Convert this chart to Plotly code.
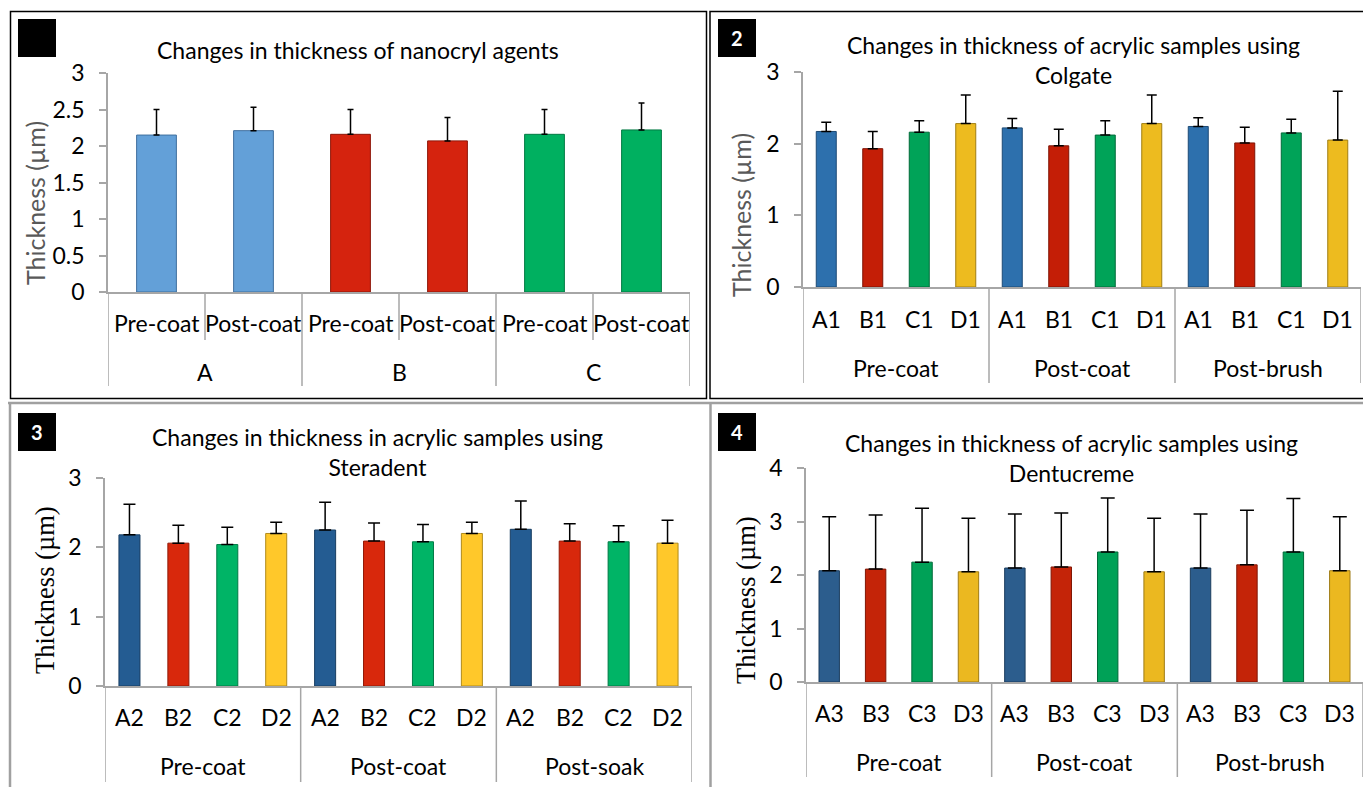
import plotly.graph_objects as go

# ---------------- Data ----------------
# Panel 1: nanocryl agents
p1_groups = ["A", "A", "B", "B", "C", "C"]
p1_phases = ["Pre-coat", "Post-coat", "Pre-coat", "Post-coat", "Pre-coat", "Post-coat"]
p1_values = [2.15, 2.21, 2.16, 2.07, 2.16, 2.22]
p1_errors = [0.35, 0.32, 0.34, 0.32, 0.34, 0.37]

# Panel 2: Colgate
p2_stages = ["Pre-coat"] * 4 + ["Post-coat"] * 4 + ["Post-brush"] * 4
p2_samples = ["A1", "B1", "C1", "D1"] * 3
p2_values = [2.17, 1.93, 2.16, 2.28, 2.22, 1.97, 2.12, 2.28, 2.24, 2.01, 2.15, 2.05]
p2_errors = [0.13, 0.24, 0.16, 0.40, 0.13, 0.23, 0.20, 0.40, 0.12, 0.22, 0.19, 0.68]

# Panel 3: Steradent
p3_stages = ["Pre-coat"] * 4 + ["Post-coat"] * 4 + ["Post-soak"] * 4
p3_samples = ["A2", "B2", "C2", "D2"] * 3
p3_values = [2.18, 2.06, 2.04, 2.20, 2.25, 2.09, 2.08, 2.20, 2.26, 2.09, 2.08, 2.06]
p3_errors = [0.44, 0.26, 0.25, 0.16, 0.40, 0.26, 0.25, 0.16, 0.41, 0.25, 0.23, 0.33]

# Panel 4: Dentucreme
p4_stages = ["Pre-coat"] * 4 + ["Post-coat"] * 4 + ["Post-brush"] * 4
p4_samples = ["A3", "B3", "C3", "D3"] * 3
p4_values = [2.08, 2.11, 2.24, 2.06, 2.13, 2.15, 2.43, 2.06, 2.13, 2.19, 2.43, 2.08]
p4_errors = [1.01, 1.01, 1.01, 1.00, 1.01, 1.01, 1.01, 1.00, 1.01, 1.02, 1.00, 1.01]

panel_titles = ["Changes in thickness of nanocryl agents",
                "Changes in thickness of acrylic samples using<br>Colgate",
                "Changes in thickness in acrylic samples using<br>Steradent",
                "Changes in thickness of acrylic samples using<br>Dentucreme"]
badge_texts = ["", "2", "3", "4"]
y_title = "Thickness (µm)"

# ---------------- Styling ----------------
OFF = 8                     # page body margin
W, H = 1371 - OFF, 787 - OFF

c1 = ["#63A0D8", "#63A0D8", "#D5230E", "#D5230E", "#00B060", "#00B060"]
c1_line = ["#3F6F9E", "#3F6F9E", "#8E1608", "#8E1608", "#007A43", "#007A43"]
c2 = ["#2D70AD", "#C41E06", "#00A358", "#EDBB1F"] * 3
c2_line = ["#1D4A75", "#7E1304", "#006A39", "#A07E12"] * 3
c3 = ["#245C92", "#D8280C", "#00B466", "#FFC82A"] * 3
c3_line = ["#183E62", "#911A08", "#007A45", "#B08A1C"] * 3
c4 = ["#2C5D8D", "#C42408", "#00A157", "#EBB820"] * 3
c4_line = ["#1B3D5E", "#801705", "#006A39", "#9E7B14"] * 3

SANS = "Lato"
SERIF = "Liberation Serif"
GRAY = "#A6A6A6"
FS = 23


def px(x):
    return (x - OFF) / W


def py(y):
    return 1 - (y - OFF) / H


panels = [
    dict(outer=p1_groups, inner=p1_phases, y=p1_values, e=p1_errors, c=c1, lc=c1_line,
         xd=(108, 690), yd=(73, 292), ymax=3, dtick=0.5, cap=3, bw=0.41,
         lab_y=(323, 372), bottom=386, inner_div=340,
         title_xy=(358, 50), yt=(35, 203, SANS, 25, "#595959"), badge=(18, 19)),
    dict(outer=p2_stages, inner=p2_samples, y=p2_values, e=p2_errors, c=c2, lc=c2_line,
         xd=(803, 1361), yd=(72, 287), ymax=3, dtick=1, cap=5, bw=0.43,
         lab_y=(319, 368), bottom=383, inner_div=None,
         title_xy=(1073, 60), yt=(741, 215, SANS, 25, "#595959"), badge=(718, 19)),
    dict(outer=p3_stages, inner=p3_samples, y=p3_values, e=p3_errors, c=c3, lc=c3_line,
         xd=(105, 692), yd=(478, 686), ymax=3, dtick=1, cap=6, bw=0.43,
         lab_y=(717, 766), bottom=782, inner_div=None,
         title_xy=(377, 452), yt=(45, 590, SERIF, 26.5, "black"), badge=(18, 413)),
    dict(outer=p4_stages, inner=p4_samples, y=p4_values, e=p4_errors, c=c4, lc=c4_line,
         xd=(806, 1363), yd=(468, 682), ymax=4, dtick=1, cap=7, bw=0.44,
         lab_y=(713, 762), bottom=777, inner_div=None,
         title_xy=(1071, 458), yt=(746, 600, SERIF, 26.5, "black"), badge=(718, 413)),
]

fig = go.Figure()
layout = dict(
    template="none",
    width=W, height=H, autosize=False,
    margin=dict(l=0, r=0, t=0, b=0, pad=0),
    paper_bgcolor="white", plot_bgcolor="white",
    showlegend=False,
)
annotations = []
shapes = []

for i, (p, title, badge_txt) in enumerate(zip(panels, panel_titles, badge_texts), start=1):
    sfx = "" if i == 1 else str(i)
    xref = "x" + sfx
    n = len(p["y"])
    fig.add_trace(go.Bar(
        x=[p["outer"], p["inner"]], y=p["y"],
        marker=dict(color=p["c"], line=dict(color=p["lc"], width=1)),
        error_y=dict(type="data", symmetric=False, array=p["e"],
                     arrayminus=[0] * n, color="black",
                     thickness=1.5, width=p["cap"]),
        xaxis=xref, yaxis="y" + sfx, width=p["bw"],
    ))
    layout["xaxis" + sfx] = dict(
        type="multicategory", domain=[px(p["xd"][0]), px(p["xd"][1])], anchor="y" + sfx,
        showline=True, linecolor=GRAY, linewidth=1.5, ticks="",
        showticklabels=False, showdividers=False,
        showgrid=False, zeroline=False, fixedrange=True, automargin=False,
        range=[-0.5, n - 0.5],
    )
    layout["yaxis" + sfx] = dict(
        domain=[py(p["yd"][1]), py(p["yd"][0])], anchor=xref, range=[0, p["ymax"]],
        dtick=p["dtick"], tick0=0, showline=True, linecolor=GRAY, linewidth=1.5,
        ticks="outside", ticklen=7, tickcolor=GRAY, tickwidth=1.5,
        ticklabelstandoff=10,
        tickfont=dict(family=SANS, size=FS, color="black"),
        showgrid=False, zeroline=False, fixedrange=True, automargin=False,
    )

    # inner category labels
    for k, lab in enumerate(p["inner"]):
        annotations.append(dict(
            text=lab, x=k, xref=xref, y=py(p["lab_y"][0]), yref="paper",
            showarrow=False, xanchor="center", yanchor="middle",
            font=dict(family=SANS, size=FS, color="black"),
        ))
    # group labels and group dividers
    starts = [k for k in range(n) if k == 0 or p["outer"][k] != p["outer"][k - 1]]
    ends = starts[1:] + [n]
    for s, e in zip(starts, ends):
        annotations.append(dict(
            text=p["outer"][s], x=(s + e - 1) / 2, xref=xref, y=py(p["lab_y"][1]), yref="paper",
            showarrow=False, xanchor="center", yanchor="middle",
            font=dict(family=SANS, size=FS, color="black"),
        ))
    for b in [starts[0]] + ends:
        shapes.append(dict(type="line", xref=xref, yref="paper",
                           x0=b - 0.5, x1=b - 0.5, y0=py(p["bottom"]), y1=py(p["yd"][1]),
                           line=dict(color=GRAY, width=1.5)))
        # inner dividers (panel 1 only)
    if p["inner_div"] is not None:
        for s, e in zip(starts, ends):
            for b in range(s + 1, e):
                shapes.append(dict(type="line", xref=xref, yref="paper",
                                   x0=b - 0.5, x1=b - 0.5, y0=py(p["inner_div"]),
                                   y1=py(p["yd"][1]), line=dict(color=GRAY, width=1.5)))

    # title
    annotations.append(dict(
        text=title, x=px(p["title_xy"][0]), y=py(p["title_xy"][1]),
        xref="paper", yref="paper", showarrow=False, xanchor="center", yanchor="middle",
        font=dict(family=SANS, size=FS, color="black"), align="center",
    ))
    # y-axis title
    cx, cy, fam, sz, col = p["yt"]
    annotations.append(dict(
        text=y_title, x=px(cx), y=py(cy), xref="paper", yref="paper",
        showarrow=False, textangle=-90, xanchor="center", yanchor="middle",
        font=dict(family=fam, size=sz, color=col),
    ))
    # badge
    bx, by = p["badge"]
    shapes.append(dict(type="rect", xref="paper", yref="paper",
                       x0=px(bx), x1=px(bx + 38), y0=py(by + 38), y1=py(by),
                       fillcolor="black", line=dict(width=0)))
    if badge_txt:
        annotations.append(dict(
            text="<b>" + badge_txt + "</b>", x=px(bx + 19), y=py(by + 19),
            xref="paper", yref="paper", showarrow=False,
            xanchor="center", yanchor="middle",
            font=dict(family=SANS, size=20, color="white"),
        ))

# Panel frames
shapes += [
    dict(type="rect", xref="paper", yref="paper", x0=px(10.5), x1=px(706.5),
         y0=py(398.5), y1=py(11.5), line=dict(color="black", width=1.5)),
    dict(type="rect", xref="paper", yref="paper", x0=px(710), x1=px(1380),
         y0=py(398.5), y1=py(11.5), line=dict(color="black", width=1.5)),
    dict(type="line", xref="paper", yref="paper", x0=px(0), x1=px(1380),
         y0=py(403), y1=py(403), line=dict(color="#A0A0A0", width=2.5)),
    dict(type="line", xref="paper", yref="paper", x0=px(10), x1=px(10),
         y0=py(800), y1=py(403), line=dict(color="#A0A0A0", width=2.5)),
    dict(type="line", xref="paper", yref="paper", x0=px(710.5), x1=px(710.5),
         y0=py(800), y1=py(403), line=dict(color="#A0A0A0", width=2.5)),
]

layout["annotations"] = annotations
layout["shapes"] = shapes
fig.update_layout(**layout)
fig.write_html("out.html")
